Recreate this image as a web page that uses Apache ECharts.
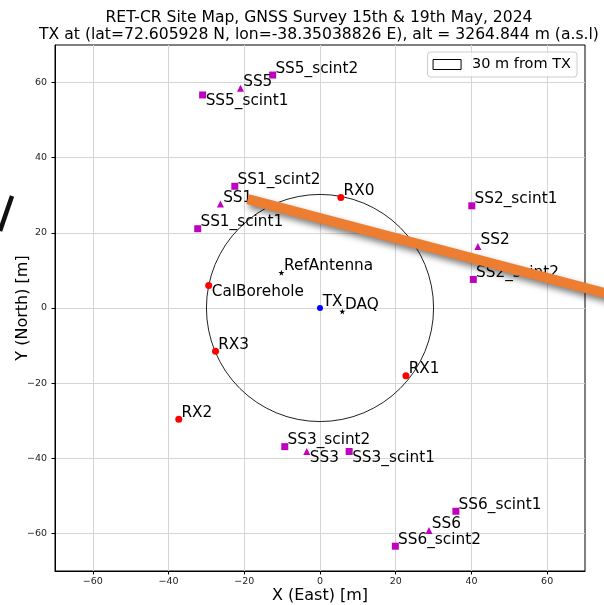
<!DOCTYPE html>
<html>
<head>
<meta charset="utf-8">
<script src="https://cdn.jsdelivr.net/npm/echarts@6/dist/echarts.min.js"></script>
<style>
  html, body { margin: 0; padding: 0; background: #fff; }
  #chart { width: 604px; height: 605px; }
</style>
</head>
<body>
<div id="chart"></div>
<script>
// positions in metres relative to TX (East, North)
const txPoints = [['TX', 0, 0]];
const rxPoints = [
  ['RX0', 5.5, 29.4], ['RX1', 22.7, -18.0], ['RX2', -37.3, -29.6],
  ['RX3', -27.6, -11.5], ['CalBorehole', -29.4, 6.0]
];
const starPoints = [['RefAntenna', -10.2, 9.4], ['DAQ', 5.9, -0.9]];
const stationPoints = [
  ['SS1', -26.3, 27.7], ['SS2', 41.7, 16.4], ['SS3', -3.5, -38.2],
  ['SS5', -21.0, 58.5], ['SS6', 28.8, -59.2]
];
const scintPoints = [
  ['SS1_scint1', -32.3, 21.1], ['SS1_scint2', -22.5, 32.4],
  ['SS2_scint1', 40.1, 27.2], ['SS2_scint2', 40.5, 7.6],
  ['SS3_scint1', 7.7, -38.2], ['SS3_scint2', -9.3, -36.9],
  ['SS5_scint1', -31.0, 56.7], ['SS5_scint2', -12.5, 62.0],
  ['SS6_scint1', 35.9, -54.1], ['SS6_scint2', 19.9, -63.4]
];
const ringRadius = 30; // m from TX
// overlay stroke: start (x, y) and end (x, y), runs off the right edge
const arrowLine = [[-19.1, 29.0, 80, 2.7]];
const axisTicks = [-60, -40, -20, 0, 20, 40, 60];

// labels that sit under their marker instead of on it
const labelsBelow = ['SS5_scint1', 'CalBorehole', 'SS3', 'SS3_scint1'];

const FONT = 'DejaVu Sans';
const chart = echarts.init(document.getElementById('chart'));

const toItems = (points, size) => points.map(([name, x, y]) => ({
  name,
  value: [x, y],
  label: {
    position: labelsBelow.includes(name)
      ? [size / 2 + 3, size / 2 + 6.3]
      : [size / 2 + 2.7, size / 2 - 6.4]
  }
}));

const pointLabel = {
  show: true,
  formatter: '{b}',
  align: 'left',
  verticalAlign: 'middle',
  color: '#000',
  fontSize: 15.3,
  fontFamily: FONT
};

const scatter = (points, symbol, size, color) => ({
  type: 'scatter',
  symbol,
  symbolSize: size,
  itemStyle: { color, opacity: 1 },
  label: pointLabel,
  emphasis: { disabled: true },
  data: toItems(points, size),
  z: 5
});

const starPath = 'path://M50,0 L61,35 L98,35 L68,57 L79,91 L50,70 L21,91 L32,57 L2,35 L39,35 Z';
const minus = v => String(v).replace('-', '\u2212');

const axisCommon = {
  type: 'value',
  min: -70,
  max: 70,
  nameLocation: 'middle',
  nameMoveOverlap: false,
  nameTextStyle: { color: '#000', fontSize: 16, fontFamily: FONT },
  axisLine: { show: true, onZero: false, lineStyle: { color: '#000', width: 1 } },
  axisTick: { show: true, customValues: axisTicks, length: 3.5, lineStyle: { color: '#000' } },
  axisLabel: { customValues: axisTicks, formatter: minus, color: '#222', fontSize: 9.5, fontFamily: FONT },
  splitLine: { show: true, lineStyle: { color: '#d5d5d5', width: 1 } }
};

chart.setOption({
  animation: false,
  backgroundColor: '#fff',
  title: {
    text: 'RET-CR Site Map, GNSS Survey 15th & 19th May, 2024\nTX at (lat=72.605928 N, lon=-38.35038826 E), alt = 3264.844 m (a.s.l)',
    left: 314,
    top: 4,
    textAlign: 'center',
    textStyle: { color: '#000', fontSize: 15.6, fontWeight: 'normal', fontFamily: FONT, lineHeight: 17 }
  },
  legend: {
    right: 27,
    top: 52,
    padding: [5, 6, 5, 5],
    itemWidth: 28,
    itemHeight: 10,
    backgroundColor: 'rgba(255,255,255,0.8)',
    borderColor: '#cccccc',
    borderWidth: 1,
    borderRadius: 3,
    textStyle: { color: '#000', fontSize: 14.5, fontFamily: FONT, lineHeight: 15, padding: [0, 0, 0, 6] },
    data: [{ name: '30 m from TX', icon: 'rect', itemStyle: { color: '#fff', borderColor: '#000', borderWidth: 1 } }]
  },
  grid: {
    left: 55, right: 19, top: 45, bottom: 34,
    outerBoundsMode: 'none',
    containLabel: false,
    show: true, borderColor: '#000', borderWidth: 1
  },
  xAxis: { ...axisCommon, name: 'X (East) [m]', nameGap: 17, axisLabel: { ...axisCommon.axisLabel, margin: 6 } },
  yAxis: { ...axisCommon, name: 'Y (North) [m]', nameGap: 24, axisLabel: { ...axisCommon.axisLabel, margin: 8 } },
  series: [
    {
      name: '30 m from TX',
      type: 'custom',
      itemStyle: { color: '#fff', borderColor: '#000' },
      encode: { x: 0, y: 1 },
      data: [[0, 0, ringRadius]],
      renderItem: (params, api) => {
        const c = api.coord([api.value(0), api.value(1)]);
        const r = api.size([api.value(2), 0])[0];
        return {
          type: 'circle',
          shape: { cx: c[0], cy: c[1], r },
          style: { fill: 'none', stroke: '#222', lineWidth: 1 }
        };
      },
      silent: true,
      z: 3
    },
    scatter(scintPoints, 'rect', 7, '#bf00bf'),
    scatter(stationPoints, 'triangle', 7, '#bf00bf'),
    scatter(rxPoints, 'circle', 7, '#ff0000'),
    scatter(txPoints, 'circle', 6, '#0000ff'),
    scatter(starPoints, starPath, 6, '#000'),
    {
      type: 'custom',
      clip: false,
      silent: true,
      encode: { x: [0, 2], y: [1, 3] },
      data: arrowLine,
      renderItem: (params, api) => {
        const a = api.coord([api.value(0), api.value(1)]);
        const b = api.coord([api.value(2), api.value(3)]);
        return {
          type: 'line',
          shape: { x1: a[0], y1: a[1], x2: b[0], y2: b[1] },
          style: {
            stroke: '#ED7D31', lineWidth: 10, lineCap: 'butt',
            shadowColor: 'rgba(0,0,0,0.5)', shadowBlur: 6, shadowOffsetX: 2, shadowOffsetY: 4
          }
        };
      },
      z: 10
    }
  ],
  graphic: [{
    type: 'line',
    shape: { x1: 12, y1: 196, x2: 0, y2: 231 },
    style: { stroke: '#111', lineWidth: 4.5 },
    silent: true
  }]
});
</script>
</body>
</html>
